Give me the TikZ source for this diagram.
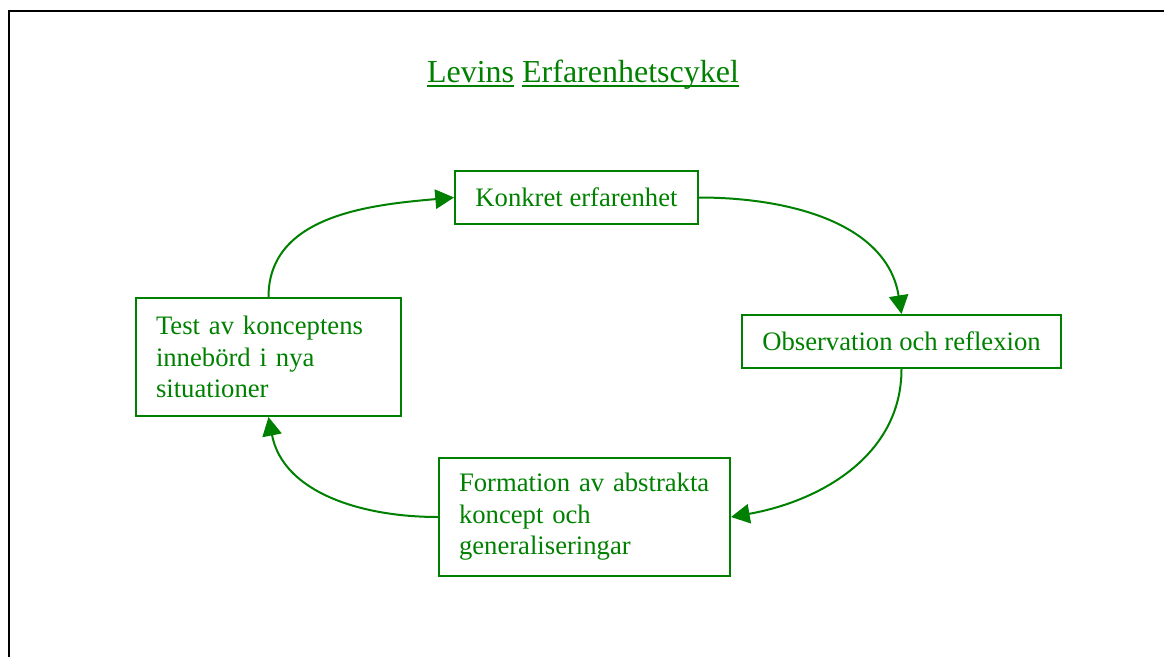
\documentclass[tikz,border=0pt]{standalone}
\usepackage{fontspec}
\setmainfont{Liberation Serif}
\usetikzlibrary{arrows.meta}
\definecolor{cyclegreen}{RGB}{0,128,0}
% underline one word at a fixed depth below the baseline
\newcommand\titleword[1]{\sbox0{#1}\rlap{\rule[-3.4pt]{\wd0}{1.3pt}}\usebox0}
\begin{document}
\begin{tikzpicture}[x=0.75pt,y=-0.75pt,
  stagebox/.style={draw=cyclegreen, line width=1.5pt, text=cyclegreen,
    font=\fontsize{20}{23.6}\selectfont, inner sep=0pt},
  onelinebox/.style={stagebox, minimum height=39.75pt},
  threelinebox/.style={stagebox, align=left, inner xsep=15pt,
    minimum height=88.5pt},
  cyclearrow/.style={draw=cyclegreen, line width=1.5pt,
    -{Triangle[length=14pt,width=14.5pt]}}]
\useasboundingbox (0,0) rectangle (1164,657);

% page frame, open to the right and bottom
\draw[line width=1.5pt, black] (8.5,657) -- (8.5,11) -- (1164,11);

% title
\node[anchor=base, text=cyclegreen, font=\fontsize{24}{28}\selectfont, inner sep=0pt]
  (title) at (583,82) {\titleword{Levins} \titleword{Erfarenhetscykel}};

% the four stages
\node[onelinebox, minimum width=182.25pt] (konkret) at (576.5,197.5) {Konkret erfarenhet};
\node[onelinebox, minimum width=239.25pt] (obs) at (901.5,341.5) {Observation och reflexion};
\node[threelinebox, text width=188.25pt] (form) at (584.5,517)
  {Formation av abstrakta\\koncept och\\generaliseringar};
\node[threelinebox, text width=168.75pt] (test) at (268.5,357)
  {Test av konceptens\\innebörd i nya\\situationer};

% cycle connectors
\draw[cyclearrow] (test.north) to[out=90,in=185] (konkret.west);
\draw[cyclearrow] (konkret.east) to[out=0,in=99] (obs.north);
\draw[cyclearrow] (obs.south) to[out=-90,in=10] (form.east);
\draw[cyclearrow] (form.west) to[out=180,in=-79] (test.south);
\end{tikzpicture}
\end{document}
